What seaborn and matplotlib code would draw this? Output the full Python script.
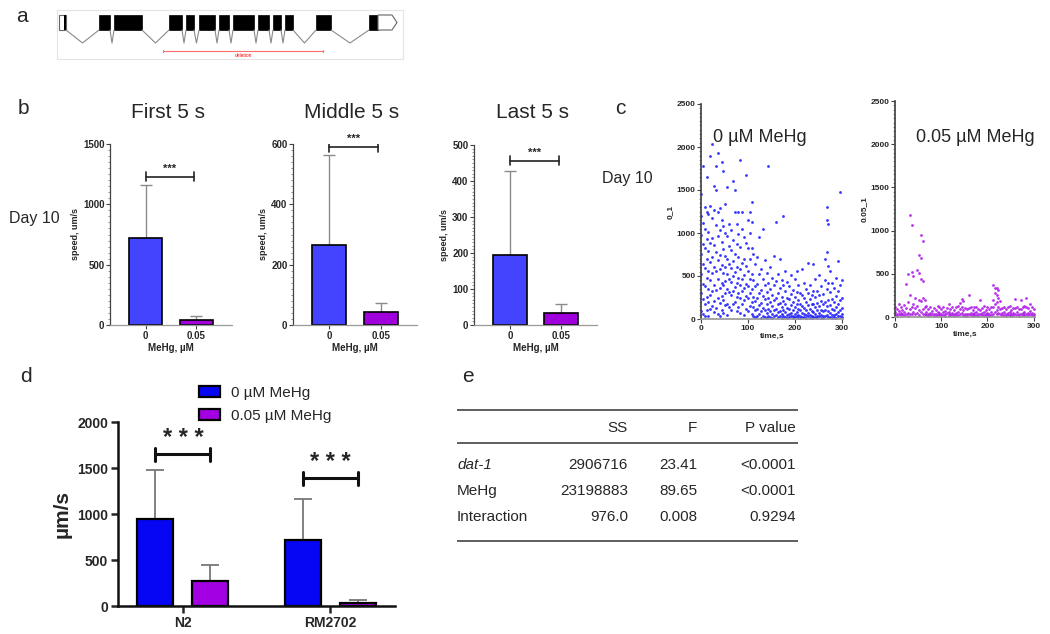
import numpy as np
import pandas as pd
import seaborn as sns
import matplotlib.pyplot as plt
from matplotlib.patches import Rectangle, Polygon
from matplotlib.ticker import AutoMinorLocator

# ---------------- data ----------------
# panel a: gene model (pixel-like units along the transcript)
exon_start = [59, 99, 114, 169, 186, 199, 219, 233, 258, 273, 285, 316, 369]
exon_end = [66, 110, 142, 182, 194, 215, 229, 254, 269, 281, 293, 331, 378]
deletion_span = [163, 323]

# panel b: mean speed and upper SD (um/s)
doses = ["0", "0.05"]
first_mean = [720, 40]
first_sd = [440, 35]
middle_mean = [265, 42]
middle_sd = [300, 30]
last_mean = [195, 32]
last_sd = [233, 25]
b_bracket_y = [1230, 590, 456]

# panel c: per-frame speed scatter (time bins every 4 s)
c_times = list(range(0, 301, 4))
ctrl_speed = [
    [1450, 1200, 980, 760, 520, 300, 90], [1780, 1120, 870, 640, 410, 230, 60],
    [1300, 1050, 820, 590, 380, 170, 40], [1650, 1250, 930, 700, 480, 260, 110],
    [1220, 1010, 790, 560, 350, 200, 30], [1900, 1310, 880, 660, 450, 280, 120],
    [2030, 1180, 940, 720, 530, 330, 150], [1550, 1270, 860, 610, 400, 210, 80],
    [1780, 1500, 1090, 780, 560, 340, 130], [1930, 1240, 970, 690, 470, 250, 60],
    [1290, 1030, 750, 580, 360, 190, 40], [1820, 1150, 890, 630, 420, 270, 100],
    [1720, 1080, 810, 540, 390, 220, 70], [1340, 1000, 730, 600, 440, 300, 160],
    [1540, 960, 700, 520, 350, 180, 50], [1100, 850, 640, 470, 310, 140],
    [1040, 800, 590, 430, 280, 110], [1600, 920, 680, 500, 330, 170],
    [1500, 1250, 760, 550, 370, 200], [1100, 870, 610, 420, 260, 90],
    [1250, 990, 720, 480, 300, 140], [1850, 840, 580, 390, 250, 70],
    [1250, 1050, 650, 460, 320, 180], [950, 700, 510, 360, 220, 50],
    [1680, 880, 620, 410, 270, 120], [1150, 830, 560, 380, 240, 90],
    [1240, 1000, 700, 470, 300, 150], [1360, 1130, 820, 520, 350, 200, 60],
    [760, 450, 260, 140, 40], [640, 380, 210, 100, 20], [720, 410, 240, 120, 30],
    [950, 520, 300, 160, 60], [580, 340, 190, 90, 10], [1050, 460, 270, 130, 40],
    [690, 400, 230, 110, 20], [530, 310, 180, 70, 10], [1780, 420, 250, 120, 40],
    [610, 350, 200, 90, 20], [480, 280, 150, 60, 10], [730, 390, 220, 100, 30],
    [1130, 440, 240, 120, 50], [520, 300, 170, 80, 20], [700, 360, 190, 90, 30],
    [450, 260, 140, 60, 10], [1200, 400, 210, 110, 40], [560, 320, 180, 80, 20],
    [430, 250, 130, 50, 10], [380, 230, 120, 60, 20], [510, 290, 160, 70, 30],
    [340, 200, 110, 40, 10], [470, 260, 140, 60, 20], [560, 310, 170, 80, 30],
    [390, 220, 120, 50, 10], [300, 180, 100, 40, 10], [580, 280, 150, 70, 20],
    [420, 240, 130, 60, 20], [350, 200, 110, 50, 10], [650, 300, 160, 70, 30],
    [400, 230, 120, 50, 10], [280, 170, 90, 40, 10], [640, 330, 180, 80, 20],
    [460, 260, 140, 60, 20], [330, 190, 100, 40, 10], [510, 280, 150, 70, 30],
    [380, 210, 110, 50, 10], [290, 170, 90, 40, 10], [700, 450, 200, 100, 30],
    [1300, 1150, 780, 350, 150, 50], [1100, 620, 420, 220, 90, 20],
    [560, 310, 160, 70, 20], [420, 230, 120, 50, 10], [360, 200, 110, 50, 20],
    [480, 270, 140, 60, 10], [680, 320, 170, 80, 30], [1480, 400, 220, 110, 40],
    [450, 250, 130, 60, 20],
]
mehg_speed = [
    [120, 60, 20], [90, 40, 10], [150, 70, 30], [110, 50, 20], [80, 30],
    [140, 60, 20], [380, 100, 40], [500, 170, 50, 10], [1180, 250, 90, 30],
    [1060, 520, 120, 40], [480, 150, 60], [220, 100, 30], [540, 130, 50],
    [720, 510, 200, 80, 20], [950, 680, 440, 180, 60], [880, 420, 220, 90, 30],
    [200, 110, 40], [130, 60, 20], [90, 40, 10], [110, 50, 20], [70, 30],
    [100, 40, 10], [80, 30, 10], [130, 60, 20], [120, 50, 20], [90, 40, 10],
    [110, 60, 20], [70, 30, 10], [100, 50], [150, 60, 20], [90, 40, 10],
    [120, 50, 20], [80, 30, 10], [110, 50, 20], [130, 60, 20], [160, 90, 30],
    [210, 120, 50], [180, 80, 20], [100, 40, 10], [90, 40, 10], [250, 100, 40],
    [120, 50, 20], [80, 30, 10], [110, 50, 20], [120, 60, 20], [90, 40, 10],
    [200, 80, 30], [100, 50, 20], [130, 60, 20], [80, 40, 10], [110, 50, 20],
    [90, 40, 10], [120, 60, 20], [370, 200, 110, 40], [340, 280, 150, 60],
    [330, 250, 170, 80, 30], [310, 220, 120, 50], [190, 90, 30], [100, 50, 20],
    [120, 60, 20], [90, 40, 10], [110, 50, 20], [130, 60, 20], [80, 30, 10],
    [100, 50, 20], [210, 100, 40], [120, 60, 20], [90, 40, 10], [200, 90, 30],
    [110, 50, 20], [130, 60, 20], [220, 120, 40], [100, 50, 20], [150, 70, 30],
    [120, 50, 20], [90, 40, 10],
]

# panel d: strain x treatment
strains = ["N2", "RM2702"]
treatments = ["0 µM MeHg", "0.05 µM MeHg"]
d_mean = {"0 µM MeHg": [950, 715], "0.05 µM MeHg": [270, 30]}
d_sd = {"0 µM MeHg": [530, 445], "0.05 µM MeHg": [175, 40]}
d_bracket_y = [1650, 1390]

# panel e: two-way ANOVA table
e_header = ["", "SS", "F", "P value"]
e_source = ["dat-1", "MeHg", "Interaction"]
e_ss = ["2906716", "23198883", "976.0"]
e_f = ["23.41", "89.65", "0.008"]
e_p = ["<0.0001", "<0.0001", "0.9294"]

# ---------------- style ----------------
sns.set_theme(style="ticks")
plt.rcParams["font.family"] = ["Liberation Sans", "DejaVu Sans"]

W, H = 1050, 634
fig = plt.figure(figsize=(W / 100, H / 100), dpi=100)


def rect(x0, y0, x1, y1):
    return [x0 / W, 1 - y1 / H, (x1 - x0) / W, (y1 - y0) / H]


def ftext(x, y, s, **kw):
    fig.text(x / W, 1 - y / H, s, **kw)


def bold_ticks(ax, size):
    ax.tick_params(labelsize=size)
    for lab in ax.get_xticklabels() + ax.get_yticklabels():
        lab.set_fontweight("bold")


# ---------------- panel a ----------------
ax_a = fig.add_axes(rect(57, 10, 403, 59))
ax_a.set_xlim(57, 403)
ax_a.set_ylim(59, 10)
ax_a.set_xticks([])
ax_a.set_yticks([])
for sp in ax_a.spines.values():
    sp.set_color("#e4e4e4")
    sp.set_linewidth(0.8)
for i, (s, e) in enumerate(zip(exon_start, exon_end)):
    if i == 0:
        ax_a.add_patch(Rectangle((s, 15), e - s, 15, fc="white", ec="#666", lw=0.8))
        ax_a.add_patch(Rectangle((e - 1.8, 15), 1.8, 15, fc="black", ec="none"))
    else:
        ax_a.add_patch(Rectangle((s, 15), e - s, 15, fc="black", ec="black", lw=0.5))
    if i < len(exon_start) - 1:
        nxt = exon_start[i + 1]
        ax_a.plot([e, (e + nxt) / 2, nxt], [30, 43, 30], color="#8a8a8a", lw=0.8)
last = exon_end[-1]
ax_a.add_patch(Polygon([(last, 15), (last + 14, 15), (last + 19, 22.5),
                        (last + 14, 30), (last, 30)], closed=True,
                       fc="white", ec="#666", lw=0.8))
ax_a.plot(deletion_span, [51, 51], color="#ff6b6b", lw=0.8)
for xd in deletion_span:
    ax_a.plot([xd, xd], [50, 52], color="#ff6b6b", lw=0.8)
ax_a.text(sum(deletion_span) / 2, 55.5, "deletion", color="red", fontsize=3.5,
          ha="center", va="center")
ftext(16, 16, "a", fontsize=15, va="center")

# ---------------- panel b ----------------
b_blue, b_purple = "#4444ff", "#a000dc"
b_sets = [
    ("First 5 s", first_mean, first_sd, rect(110, 144, 232, 325), 1500, 500),
    ("Middle 5 s", middle_mean, middle_sd, rect(293, 144, 417, 325), 600, 200),
    ("Last 5 s", last_mean, last_sd, rect(474, 145, 597, 325), 500, 100),
]
for k, (title, mean, sd, r, ymax, step) in enumerate(b_sets):
    ax = fig.add_axes(r)
    sns.barplot(x=doses, y=mean, hue=doses, palette=[b_blue, b_purple], saturation=1,
                width=0.65, edgecolor="black", linewidth=1.2, legend=False, ax=ax)
    for p, s in zip(ax.patches, sd):
        ax.errorbar(p.get_x() + p.get_width() / 2, p.get_height(), yerr=[[0], [s]],
                    fmt="none", ecolor="#8a8a8a", elinewidth=1, capsize=4.5,
                    capthick=1, zorder=0.5)
    ax.set_xlim(-0.7, 1.7)
    ax.set_ylim(0, ymax)
    ax.set_yticks(np.arange(0, ymax + 1, step))
    ax.yaxis.set_minor_locator(AutoMinorLocator(10))
    ax.tick_params(which="minor", length=1.5, width=0.5, color="#666")
    ax.tick_params(which="major", length=3, width=0.8, pad=1, color="#444")
    ax.spines["left"].set_color("#444")
    ax.spines["bottom"].set_color("#999")
    for sp in ["left", "bottom"]:
        ax.spines[sp].set_linewidth(0.9)
    sns.despine(ax=ax)
    bold_ticks(ax, 7)
    ax.set_xlabel("MeHg, µM", fontsize=7, fontweight="bold", labelpad=2)
    ax.set_ylabel("speed, um/s", fontsize=6.5, fontweight="bold", labelpad=2)
    yb = b_bracket_y[k]
    ax.plot([0, 0.95], [yb, yb], color="#222", lw=1.2)
    for xb in [0, 0.95]:
        ax.plot([xb, xb], [yb - ymax * 0.025, yb + ymax * 0.025], color="#222", lw=1.2)
    ax.text(0.475, yb + ymax * 0.015, "***", ha="center", va="bottom",
            fontsize=8, fontweight="bold")
    ftext(r[0] * W + r[2] * W / 2 - 3, 112, title, fontsize=15, ha="center", va="center")

ftext(18, 108, "b", fontsize=15, va="center")
ftext(9, 218, "Day 10", fontsize=11.5, va="center")

# ---------------- panel c ----------------
c_sets = [
    (ctrl_speed, "#1f1fff", rect(701, 104, 843, 319), "0_1", "0 µM MeHg", 760),
    (mehg_speed, "#b01ee8", rect(895, 101, 1035, 317), "0.05_1", "0.05 µM MeHg", 975),
]
for speeds, col, r, ylab, lab, tx in c_sets:
    rows = [(t, v) for t, vals in zip(c_times, speeds) for v in vals]
    dfc = pd.DataFrame(rows, columns=["time", "speed"])
    ax = fig.add_axes(r)
    sns.scatterplot(data=dfc, x="time", y="speed", color=col, s=4, marker="o",
                    linewidth=0, alpha=0.9, ax=ax)
    ax.set_xlim(0, 303)
    ax.set_ylim(0, 2500)
    ax.set_xticks([0, 100, 200, 300])
    ax.set_yticks([0, 500, 1000, 1500, 2000, 2500])
    ax.yaxis.set_minor_locator(AutoMinorLocator(10))
    ax.tick_params(which="minor", length=1.5, width=0.5, color="#666")
    ax.tick_params(which="major", length=3, width=0.8, pad=1, color="#444")
    ax.spines["left"].set_color("#444")
    ax.spines["bottom"].set_color("#999")
    sns.despine(ax=ax)
    bold_ticks(ax, 6)
    ax.set_xlabel("time,s", fontsize=6, fontweight="bold", labelpad=1)
    ax.set_ylabel(ylab, fontsize=6, fontweight="bold", labelpad=2)
    ftext(tx, 138, lab, fontsize=13, ha="center", va="center")

ftext(615, 109, "c", fontsize=15, va="center")
ftext(602, 178, "Day 10", fontsize=11.5, va="center")

# ---------------- panel d ----------------
d_blue, d_purple = "#0606f5", "#a300e3"
df_d = pd.DataFrame({
    "strain": strains * 2,
    "treatment": [treatments[0]] * 2 + [treatments[1]] * 2,
    "speed": d_mean[treatments[0]] + d_mean[treatments[1]],
    "sd": d_sd[treatments[0]] + d_sd[treatments[1]],
})
ax_d = fig.add_axes(rect(118, 422, 395, 606))
sns.barplot(data=df_d, x="strain", y="speed", hue="treatment", saturation=1,
            palette=[d_blue, d_purple], width=0.75, gap=0.35,
            edgecolor="black", linewidth=1.6, ax=ax_d)
for p, s in zip(ax_d.patches, df_d["sd"]):
    ax_d.errorbar(p.get_x() + p.get_width() / 2, p.get_height(), yerr=[[0], [s]],
                  fmt="none", ecolor="#777", elinewidth=1.3, capsize=6.5,
                  capthick=1.3, zorder=0.5)
ax_d.set_xlim(-0.44, 1.44)
ax_d.set_ylim(0, 2000)
ax_d.set_yticks([0, 500, 1000, 1500, 2000])
sns.despine(ax=ax_d)
for sp in ["left", "bottom"]:
    ax_d.spines[sp].set_linewidth(1.8)
    ax_d.spines[sp].set_color("#111")
ax_d.tick_params(length=5, width=1.8, pad=2)
bold_ticks(ax_d, 10)
ax_d.set_xlabel("")
ax_d.set_ylabel("µm/s", fontsize=15, fontweight="bold", labelpad=4)
offs = 0.1875
for i, yb in enumerate(d_bracket_y):
    x0, x1 = i - offs, i + offs
    ax_d.plot([x0, x1], [yb, yb], color="#111", lw=2.2)
    for xb in [x0, x1]:
        ax_d.plot([xb, xb], [yb - 70, yb + 70], color="#111", lw=2.2)
    ax_d.text(i, yb + 45, "* * *", ha="center", va="bottom", fontsize=17,
              fontweight="bold")
handles, labels = ax_d.get_legend_handles_labels()
ax_d.legend(handles, labels, loc="upper left", bbox_to_anchor=(191 / W, 1 - 378 / H),
            bbox_transform=fig.transFigure, frameon=False, fontsize=11,
            handlelength=1.4, handleheight=0.75, labelspacing=0.62, handletextpad=0.75,
            borderpad=0)

ftext(20, 377, "d", fontsize=15, va="center")

# ---------------- panel e ----------------
ax_e = fig.add_axes(rect(457, 405, 798, 548))
ax_e.set_xlim(457, 798)
ax_e.set_ylim(548, 405)
ax_e.axis("off")
for yl in [410, 443, 541]:
    ax_e.plot([457, 798], [yl, yl], color="#333", lw=1.1)
col_x = [457, 628, 697, 796]
for j, h in enumerate(e_header):
    ax_e.text(col_x[j], 428, h, ha="right" if j else "left", va="center", fontsize=11)
for i in range(len(e_source)):
    y = 465 + 26 * i
    ax_e.text(col_x[0], y, e_source[i], ha="left", va="center", fontsize=11,
              style="italic" if i == 0 else "normal")
    ax_e.text(col_x[1], y, e_ss[i], ha="right", va="center", fontsize=11)
    ax_e.text(col_x[2], y, e_f[i], ha="right", va="center", fontsize=11)
    ax_e.text(col_x[3], y, e_p[i], ha="right", va="center", fontsize=11)

ftext(462, 377, "e", fontsize=15, va="center")

fig.savefig("out.png", dpi=100)
